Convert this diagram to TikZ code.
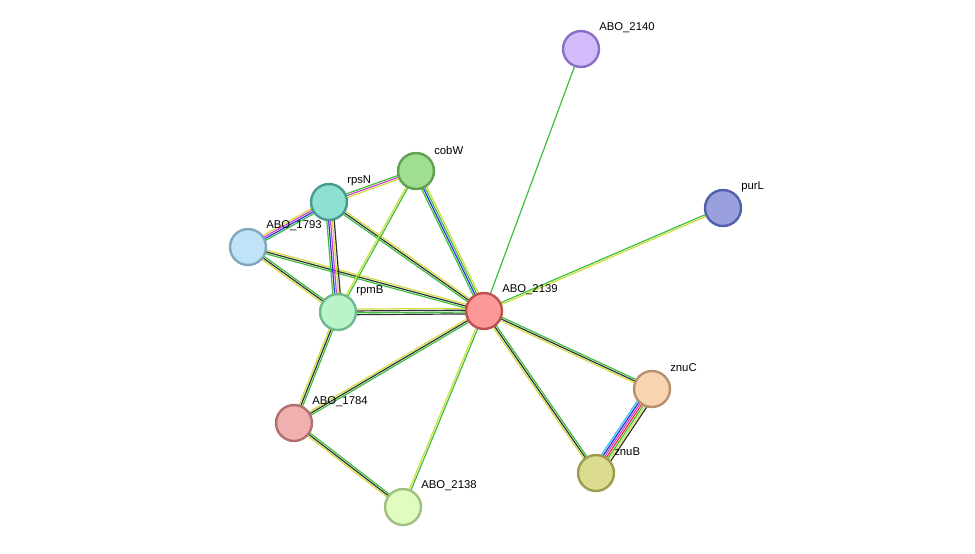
\documentclass[tikz,border=0pt]{standalone}
\usepackage{fontspec}
\setmainfont{Liberation Sans}
\usetikzlibrary{calc}
\definecolor{eg}{HTML}{3CC03C}\definecolor{ey}{HTML}{D2DC3C}\definecolor{ek}{HTML}{303030}
\definecolor{eb}{HTML}{3030E0}\definecolor{em}{HTML}{D040D0}\definecolor{ec}{HTML}{40C8E8}\definecolor{er}{HTML}{E03030}
\newcommand{\mledge}[4]{% a b n colors
  \foreach \cc [count=\i] in {#4}{
    \pgfmathsetmacro{\dd}{(\i-(#3+1)/2)*1.4}
    \draw[\cc,line width=0.9pt] ($(#1)!\dd pt!90:(#2)$) -- ($(#2)!\dd pt!-90:(#1)$);
  }}
\begin{document}
\begin{tikzpicture}[x=0.0264cm,y=-0.0264cm,
  prot/.style={circle,minimum size=27pt,inner sep=0pt,line width=1.8pt},
  lab/.style={anchor=west,font=\fontsize{8.5}{10}\selectfont,inner sep=0pt}]
\useasboundingbox (0,0) rectangle (975,553);
\coordinate (c2140) at (581,49);
\coordinate (cpurL) at (723,208);
\coordinate (ccobW) at (416,171);
\coordinate (crpsN) at (329,202);
\coordinate (c1793) at (248,247);
\coordinate (crpmB) at (338,312);
\coordinate (c2139) at (484,311);
\coordinate (cznuC) at (652,389);
\coordinate (c1784) at (294,423);
\coordinate (cznuB) at (596,473);
\coordinate (c2138) at (403,507);
\mledge{c2139}{c2140}{1}{eg}
\mledge{c2139}{cpurL}{2}{ey,eg}
\mledge{c2139}{ccobW}{4}{ey,eg,eb,eg}
\mledge{c2139}{crpsN}{3}{ey,ek,eg}
\mledge{c2139}{c1793}{3}{ey,ek,eg}
\mledge{c2139}{crpmB}{4}{ey,ek,eg,ek}
\mledge{c2139}{cznuC}{3}{ey,ek,eg}
\mledge{c2139}{cznuB}{3}{ey,ek,eg}
\mledge{c2139}{c1784}{3}{ey,ek,eg}
\mledge{c2139}{c2138}{2}{ey,eg}
\mledge{ccobW}{crpsN}{3}{eg,em,ey}
\mledge{ccobW}{crpmB}{2}{ey,eg}
\mledge{crpsN}{c1793}{4}{ey,em,eb,eg}
\mledge{crpsN}{crpmB}{5}{eg,eb,em,ey,ek}
\mledge{c1793}{crpmB}{3}{ey,ek,eg}
\mledge{crpmB}{c1784}{3}{ey,ek,eg}
\mledge{c1784}{c2138}{3}{ey,ek,eg}
\mledge{cznuC}{cznuB}{7}{ec,eb,em,er,eg,ey,ek}
\foreach \n/\f/\d/\t in {2140/D4BCFC/8A70C4/ABO\_2140, purL/9AA0DE/5260A8/purL,
  cobW/A0DE90/60A050/cobW, rpsN/8EE0D0/4A9A90/rpsN, 1793/BFE4F8/80A8C0/ABO\_1793,
  rpmB/B8F4C8/70B890/rpmB, 2139/FC9898/C05050/ABO\_2139, znuC/F8D4B0/B89070/znuC,
  1784/F0B0B0/B07070/ABO\_1784, znuB/DCDC90/9C9C50/znuB, 2138/E0FCC0/A0C080/ABO\_2138}{
  \definecolor{ff}{HTML}{\f}\definecolor{dd}{HTML}{\d}
  \node[prot,fill=ff,draw=dd] (\n) at (c\n) {};
  \node[lab] (l\n) at ($(c\n)+(18,-21)$) {\t};
}
\end{tikzpicture}
\end{document}
